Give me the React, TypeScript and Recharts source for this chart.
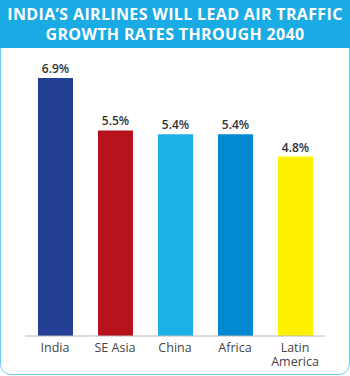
import React from 'react';
import { BarChart, Bar, XAxis, YAxis, LabelList, Cell } from 'recharts';

const regions = ['India', 'SE Asia', 'China', 'Africa', 'Latin America'];
const growth = [6.9, 5.5, 5.4, 5.4, 4.8];
const barColors = ['#233f96', '#b5121b', '#1cb0e6', '#0288d1', '#fff200'];
const title = ["INDIA\u2019S AIRLINES WILL LEAD AIR TRAFFIC", 'GROWTH RATES THROUGH 2040'];

const data = regions.map((r, i) => ({ region: r, value: growth[i] }));

const FONT = '"Open Sans", "DejaVu Sans", sans-serif';

const Tick = (props: any) => {
  const { x, y, payload } = props;
  const label: string = payload.value;
  const lines = label.length > 10 ? label.split(' ') : [label];
  return (
    <g transform={`translate(${x},${y})`}>
      <text x={0} y={8} textAnchor="middle" fontSize={12.5} fill="#444" fontFamily={FONT}>
        {lines.map((l, i) => (
          <tspan key={i} x={0} dy={i === 0 ? 0 : 14}>
            {l}
          </tspan>
        ))}
      </text>
    </g>
  );
};

export default function App() {
  return (
    <div style={{ position: 'absolute', left: 0, top: 0, width: 350, height: 376, background: '#fff' }}>
      <div
        style={{
          position: 'absolute', left: 0, top: 0, width: 350, height: 375, boxSizing: 'border-box',
          border: '1px solid #6dcff6', borderRadius: '0 0 11px 11px',
        }}
      />
      <div
        style={{
          position: 'absolute', left: 0, top: 0, width: 350, height: 48, background: '#1aabe4',
          color: '#fff', fontFamily: FONT, fontWeight: 700, fontSize: 16, lineHeight: '20px',
          textAlign: 'center', paddingTop: 4, boxSizing: 'border-box', whiteSpace: 'nowrap', letterSpacing: 0.35,
        }}
      >
        <div>{title[0]}</div>
        <div>{title[1]}</div>
      </div>
      <div style={{ position: 'absolute', left: 0, top: 0 }}>
        <BarChart width={350} height={376} data={data} margin={{ top: 37, right: 25, bottom: 0, left: 25 }} barSize={35}>
          <XAxis
            dataKey="region"
            height={40}
            tickLine={false}
            axisLine={{ stroke: '#bbbbbb', strokeWidth: 1 }}
            tick={<Tick />}
            interval={0}
          />
          <YAxis hide domain={[0, 8]} />
          <Bar dataKey="value" isAnimationActive={false}>
            {data.map((d, i) => (
              <Cell key={d.region} fill={barColors[i]} />
            ))}
            <LabelList
              dataKey="value"
              position="top"
              offset={5}
              formatter={(v: any) => `${Number(v).toFixed(1)}%`}
              style={{ fontSize: 12, fill: '#333', fontFamily: FONT, fontWeight: 600 }}
            />
          </Bar>
        </BarChart>
      </div>
    </div>
  );
}
